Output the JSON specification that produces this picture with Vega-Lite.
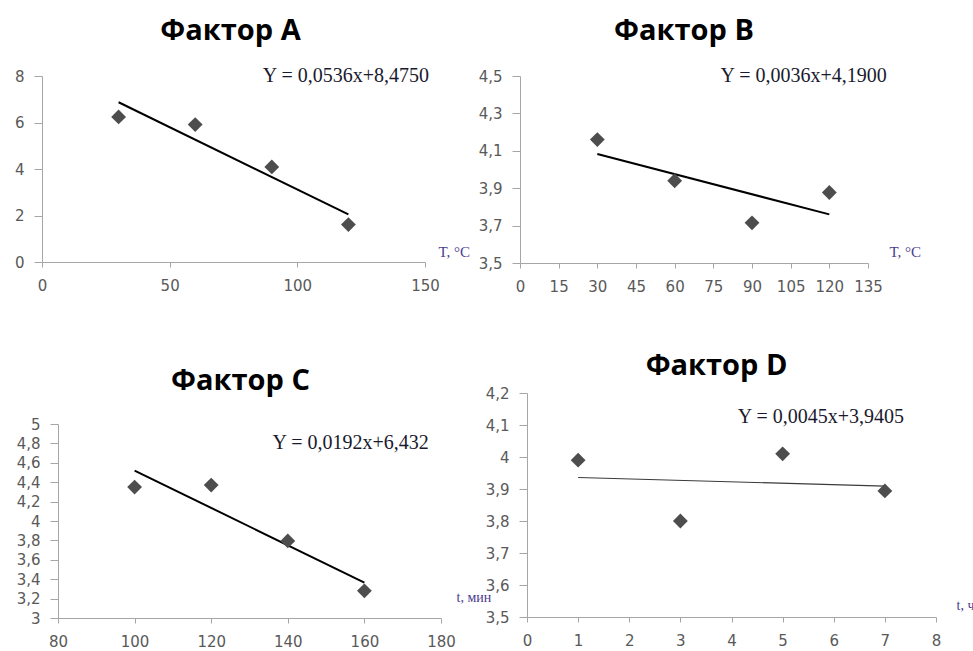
{
  "$schema": "https://vega.github.io/schema/vega-lite/v6.json",
  "background": "white",
  "padding": {"left": 5, "top": 17, "right": 0, "bottom": 0},
  "datasets": {
    "points": [
      {"factor": "A", "x": 30, "y": 6.24}, {"factor": "A", "x": 60, "y": 5.91}, {"factor": "A", "x": 90, "y": 4.09}, {"factor": "A", "x": 120, "y": 1.61},
      {"factor": "B", "x": 30, "y": 4.16}, {"factor": "B", "x": 60, "y": 3.94}, {"factor": "B", "x": 90, "y": 3.715}, {"factor": "B", "x": 120, "y": 3.877},
      {"factor": "C", "x": 100, "y": 4.35}, {"factor": "C", "x": 120, "y": 4.37}, {"factor": "C", "x": 140, "y": 3.795}, {"factor": "C", "x": 160, "y": 3.28},
      {"factor": "D", "x": 1, "y": 3.99}, {"factor": "D", "x": 3, "y": 3.80}, {"factor": "D", "x": 5, "y": 4.01}, {"factor": "D", "x": 7, "y": 3.894}
    ],
    "fits": [
      {"factor": "A", "x": 30, "y": 6.87}, {"factor": "A", "x": 120, "y": 2.05},
      {"factor": "B", "x": 30, "y": 4.083}, {"factor": "B", "x": 120, "y": 3.76},
      {"factor": "C", "x": 100, "y": 4.52}, {"factor": "C", "x": 160, "y": 3.365},
      {"factor": "D", "x": 1, "y": 3.936}, {"factor": "D", "x": 7, "y": 3.909}
    ],
    "eqs": [
      {"factor": "A", "x": 119, "y": 8, "label": "Y = 0,0536x+8,4750"},
      {"factor": "B", "x": 110, "y": 4.5, "label": "Y = 0,0036x+4,1900"},
      {"factor": "C", "x": 156.4, "y": 4.8, "label": "Y = 0,0192x+6,432"},
      {"factor": "D", "x": 5.75, "y": 4.124, "label": "Y = 0,0045x+3,9405"}
    ]
  },
  "columns": 2,
  "align": "none",
  "spacing": -16,
  "concat": [
    {
      "columns": 1,
      "align": "none",
      "spacing": 74,
      "concat": [
        {
          "width": 383, "height": 186,
          "title": {"text": "Фактор A", "frame": "group", "dx": -3, "offset": 20},
          "encoding": {
            "x": {"field": "x", "type": "quantitative", "scale": {"domain": [0, 150], "nice": false, "zero": false},
                  "axis": {"values": [0, 50, 100, 150], "title": "T, °C", "titleX": 396, "titleY": -11, "titleAlign": "left", "titleBaseline": "middle", "titleAngle": 0}},
            "y": {"field": "y", "type": "quantitative", "scale": {"domain": [0, 8], "nice": false, "zero": false},
                  "axis": {"values": [0, 2, 4, 6, 8], "title": null, "minExtent": 37, "maxExtent": 37}}
          },
          "layer": [
            {"data": {"name": "fits"}, "transform": [{"filter": "datum.factor == 'A'"}], "mark": {"type": "line", "color": "#000000", "strokeWidth": 2}},
            {"data": {"name": "points"}, "transform": [{"filter": "datum.factor == 'A'"}], "mark": {"type": "point", "shape": "diamond", "filled": true, "size": 220, "color": "#4d4d4d", "opacity": 1}},
            {"data": {"name": "eqs"}, "transform": [{"filter": "datum.factor == 'A'"}], "mark": {"type": "text", "font": "Liberation Serif", "fontSize": 20, "color": "#1a1a2e", "baseline": "middle"}, "encoding": {"text": {"field": "label"}}}
          ]
        },
        {
          "width": 399, "height": 194,
          "title": {"text": "Фактор C", "frame": "group", "dx": -1, "offset": 21},
          "encoding": {
            "x": {"field": "x", "type": "quantitative", "scale": {"domain": [80, 180], "range": [16, 399], "nice": false, "zero": false},
                  "axis": {"values": [80, 100, 120, 140, 160, 180], "title": "t, мин", "titleX": 414, "titleY": -21, "titleAlign": "left", "titleBaseline": "middle", "titleAngle": 0, "titleFontSize": 14}},
            "y": {"field": "y", "type": "quantitative", "scale": {"domain": [3, 5], "nice": false, "zero": false},
                  "axis": {"values": [3, 3.2, 3.4, 3.6, 3.8, 4, 4.2, 4.4, 4.6, 4.8, 5], "title": null, "offset": -16}}
          },
          "layer": [
            {"data": {"name": "fits"}, "transform": [{"filter": "datum.factor == 'C'"}], "mark": {"type": "line", "color": "#000000", "strokeWidth": 2}},
            {"data": {"name": "points"}, "transform": [{"filter": "datum.factor == 'C'"}], "mark": {"type": "point", "shape": "diamond", "filled": true, "size": 220, "color": "#4d4d4d", "opacity": 1}},
            {"data": {"name": "eqs"}, "transform": [{"filter": "datum.factor == 'C'"}], "mark": {"type": "text", "font": "Liberation Serif", "fontSize": 20, "color": "#1a1a2e", "baseline": "middle"}, "encoding": {"text": {"field": "label"}}}
          ]
        }
      ]
    },
    {
      "columns": 1,
      "align": "none",
      "spacing": 58,
      "concat": [
        {
          "width": 348, "height": 187,
          "title": {"text": "Фактор B", "frame": "group", "dx": -10, "offset": 20},
          "encoding": {
            "x": {"field": "x", "type": "quantitative", "scale": {"domain": [0, 135], "nice": false, "zero": false},
                  "axis": {"values": [0, 15, 30, 45, 60, 75, 90, 105, 120, 135], "title": "T, °C", "titleX": 369, "titleY": -12, "titleAlign": "left", "titleBaseline": "middle", "titleAngle": 0}},
            "y": {"field": "y", "type": "quantitative", "scale": {"domain": [3.5, 4.5], "nice": false, "zero": false},
                  "axis": {"values": [3.5, 3.7, 3.9, 4.1, 4.3, 4.5], "title": null, "minExtent": 45, "maxExtent": 45}}
          },
          "layer": [
            {"data": {"name": "fits"}, "transform": [{"filter": "datum.factor == 'B'"}], "mark": {"type": "line", "color": "#000000", "strokeWidth": 2}},
            {"data": {"name": "points"}, "transform": [{"filter": "datum.factor == 'B'"}], "mark": {"type": "point", "shape": "diamond", "filled": true, "size": 220, "color": "#4d4d4d", "opacity": 1}},
            {"data": {"name": "eqs"}, "transform": [{"filter": "datum.factor == 'B'"}], "mark": {"type": "text", "font": "Liberation Serif", "fontSize": 20, "color": "#1a1a2e", "baseline": "middle"}, "encoding": {"text": {"field": "label"}}}
          ]
        },
        {
          "width": 416, "height": 224,
          "title": {"text": "Фактор D", "frame": "group", "dx": -11.5, "offset": 5},
          "encoding": {
            "x": {"field": "x", "type": "quantitative", "scale": {"domain": [0, 8], "range": [7, 416], "nice": false, "zero": false},
                  "axis": {"values": [0, 1, 2, 3, 4, 5, 6, 7, 8], "title": "t, ч", "titleX": 436, "titleY": -12, "titleAlign": "left", "titleBaseline": "middle", "titleAngle": 0, "titleFontSize": 14}},
            "y": {"field": "y", "type": "quantitative", "scale": {"domain": [3.5, 4.2], "nice": false, "zero": false},
                  "axis": {"values": [3.5, 3.6, 3.7, 3.8, 3.9, 4, 4.1, 4.2], "title": null, "offset": -7}}
          },
          "layer": [
            {"data": {"name": "fits"}, "transform": [{"filter": "datum.factor == 'D'"}], "mark": {"type": "line", "color": "#3a3a3a", "strokeWidth": 1.1}},
            {"data": {"name": "points"}, "transform": [{"filter": "datum.factor == 'D'"}], "mark": {"type": "point", "shape": "diamond", "filled": true, "size": 220, "color": "#4d4d4d", "opacity": 1}},
            {"data": {"name": "eqs"}, "transform": [{"filter": "datum.factor == 'D'"}], "mark": {"type": "text", "font": "Liberation Serif", "fontSize": 20, "color": "#1a1a2e", "baseline": "middle"}, "encoding": {"text": {"field": "label"}}}
          ]
        }
      ]
    }
  ],
  "config": {
    "view": {"stroke": null},
    "axis": {
      "grid": false,
      "domainColor": "#a6a6a6",
      "tickColor": "#a6a6a6",
      "labelFont": "DejaVu Sans",
      "labelFontSize": 15,
      "labelColor": "#595959",
      "labelFlush": false,
      "labelOverlap": false,
      "labelExpr": "replace(format(datum.value, '.1~f'), '.', ',')",
      "titleFont": "Liberation Serif",
      "titleFontWeight": "normal",
      "titleFontSize": 15,
      "titleColor": "#4b3b8f"
    },
    "axisX": {"tickSize": 5, "labelPadding": 11},
    "axisY": {"tickSize": 8, "labelPadding": 10},
    "title": {"font": "Open Sans", "fontSize": 29, "fontWeight": "bold", "color": "#000000", "anchor": "middle", "baseline": "alphabetic"}
  }
}
